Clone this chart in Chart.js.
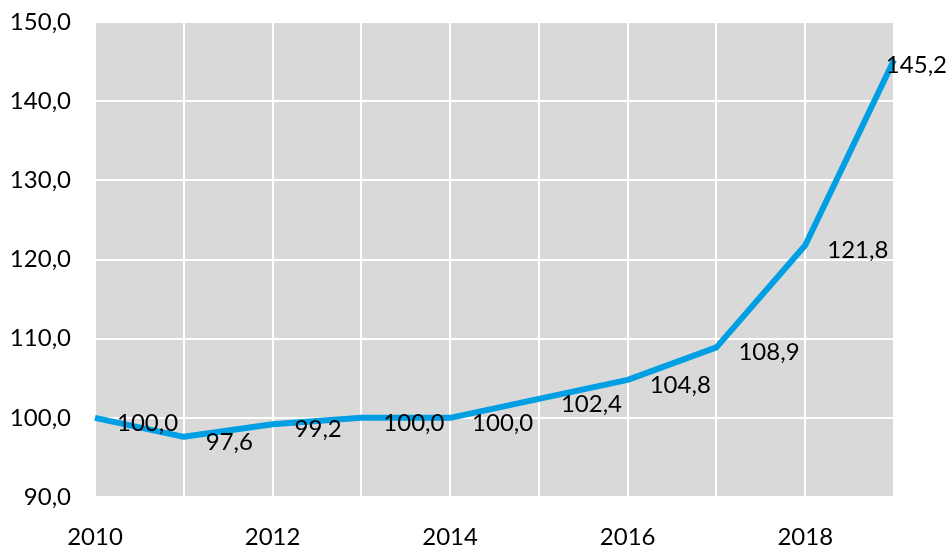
<!DOCTYPE html>
<html>
<head>
<meta charset="utf-8">
<script src="https://cdn.jsdelivr.net/npm/chart.js@4/dist/chart.umd.min.js"></script>
<style>
  html, body { margin: 0; padding: 0; background: #fff; }
  #wrap { width: 950px; height: 550px; }
</style>
</head>
<body>
<div id="wrap"><canvas id="c" width="950" height="550"></canvas></div>
<script>
const years = ["2010", "2011", "2012", "2013", "2014", "2015", "2016", "2017", "2018", "2019"];
const values = [100.0, 97.6, 99.2, 100.0, 100.0, 102.4, 104.8, 108.9, 121.8, 145.2];
const yMin = 90;
const yMax = 150;
const yStep = 10;

const FONT = { family: "Lato, 'Open Sans', sans-serif", size: 24 };
const fmt = (v) => v.toFixed(1).replace(".", ",");

// grey plot background
const plotBg = {
  id: "plotBg",
  beforeDraw(chart) {
    const { ctx, chartArea: a } = chart;
    ctx.save();
    ctx.fillStyle = "#d9d9d9";
    ctx.fillRect(a.left, a.top, a.right - a.left, a.bottom - a.top);
    ctx.restore();
  },
};

// value labels to the right of each point
const valueLabels = {
  id: "valueLabels",
  afterDatasetsDraw(chart) {
    const { ctx } = chart;
    const meta = chart.getDatasetMeta(0);
    ctx.save();
    ctx.font = `${FONT.size}px ${FONT.family}`;
    ctx.fillStyle = "#000";
    ctx.textAlign = "left";
    ctx.textBaseline = "middle";
    meta.data.forEach((pt, i) => {
      const txt = fmt(values[i]);
      const w = ctx.measureText(txt).width;
      let x = pt.x + 22;
      if (x + w > chart.width - 3) x = chart.width - 3 - w;
      ctx.fillText(txt, x, pt.y + 5);
    });
    ctx.restore();
  },
};

new Chart(document.getElementById("c"), {
  type: "line",
  data: {
    labels: years,
    datasets: [
      {
        data: values,
        borderColor: "#009fe3",
        borderWidth: 6,
        borderJoinStyle: "round",
        pointRadius: 0,
        tension: 0,
        fill: false,
      },
    ],
  },
  options: {
    responsive: false,
    animation: false,
    layout: { padding: { top: 22, right: 56, left: 0, bottom: 0 } },
    plugins: { legend: { display: false }, tooltip: { enabled: false } },
    scales: {
      x: {
        offset: false,
        grid: { color: "#fff", lineWidth: 2, drawTicks: false, offset: false },
        border: { display: false },
        ticks: {
          autoSkip: false,
          maxRotation: 0,
          padding: 26,
          color: "#000",
          font: FONT,
          callback: (v, i) => (i % 2 === 0 && i < years.length - 1 ? years[i] : ""),
        },
        afterFit: (s) => {
          s.height = 53;
          s.paddingLeft = 0;
          s.paddingRight = 0;
        },
      },
      y: {
        min: yMin,
        max: yMax,
        grid: { color: "#fff", lineWidth: 2, drawTicks: false },
        border: { display: false },
        ticks: {
          stepSize: yStep,
          padding: 24,
          color: "#000",
          font: FONT,
          callback: (v) => fmt(v),
        },
        afterFit: (s) => {
          s.width = 95;
          s.paddingTop = 0;
          s.paddingBottom = 0;
        },
      },
    },
  },
  plugins: [plotBg, valueLabels],
});
</script>
</body>
</html>
